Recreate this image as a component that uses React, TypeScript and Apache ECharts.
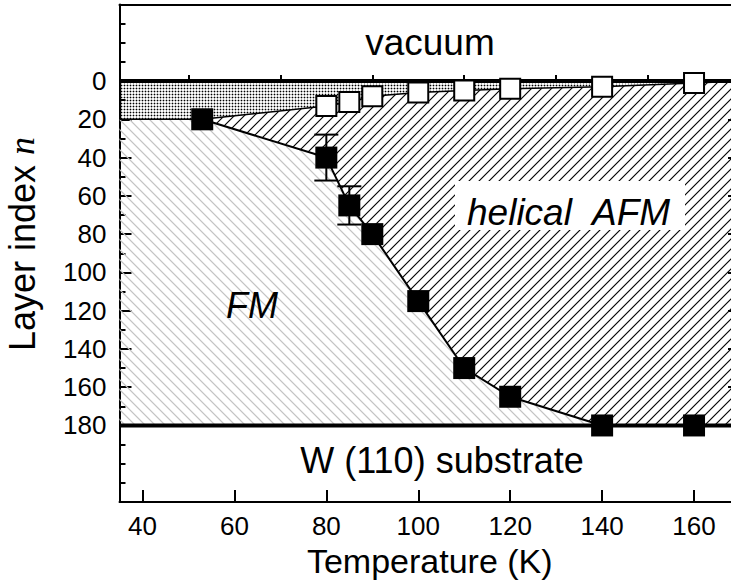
import { useEffect, useRef } from 'react';
import * as echarts from 'echarts';

// axis ranges and tick positions
const tempRange = [35, 170];
const layerRange = [-40, 220];
const tempTicks = [40, 60, 80, 100, 120, 140, 160];
const tempMinorTicks = [50, 70, 90, 110, 130, 150, 170];
const layerLabels = [0, 20, 40, 60, 80, 100, 120, 140, 160, 180];
const layerMajorTicks = [20, 40, 60, 80, 100, 120, 140, 160];

// film surface and W(110) interface, in layers
const surfaceLayer = 0;
const substrateLayer = 180;

// filled squares: FM / helical AFM boundary
const fmTemp = [53, 80, 85, 90, 100, 110, 120, 140, 160];
const fmLayer = [20, 40, 65, 80, 115, 150, 165, 180, 180];

// error bars on the filled squares
const errTemp = [80, 85];
const errLow = [28, 55];
const errHigh = [52, 75];

// open squares: depth of the surface region
const surfTemp = [80, 85, 90, 100, 110, 120, 140, 160];
const surfLayer = [13, 11, 8, 6, 5, 4, 3, 1];

const FONT = "'Liberation Sans', Arial, Helvetica, sans-serif";

type Pt = number[];
const zip = (xs: number[], ys: number[]): Pt[] => xs.map((x, i) => [x, ys[i]]);

// builds a repeating tile, drawn at high resolution and shown at `w` x `h` px
function makePattern(w: number, h: number, draw: (ctx: CanvasRenderingContext2D) => void) {
  const k = 8;
  const c = document.createElement('canvas');
  c.width = w * k;
  c.height = h * k;
  const ctx = c.getContext('2d')!;
  ctx.scale(k, k);
  draw(ctx);
  return { image: c.toDataURL(), repeat: 'repeat', imageWidth: w, imageHeight: h };
}

function stipple() {
  return makePattern(3, 3, (ctx) => {
    ctx.fillStyle = '#000';
    ctx.beginPath();
    ctx.arc(1.5, 1.5, 0.88, 0, Math.PI * 2);
    ctx.fill();
  });
}

// "/" hatch
function hatchUp(s: number, color: string, lw: number) {
  return makePattern(s, s, (ctx) => {
    ctx.strokeStyle = color;
    ctx.lineWidth = lw;
    for (const c of [0, s, 2 * s]) {
      ctx.beginPath();
      ctx.moveTo(-2, c + 2);
      ctx.lineTo(s + 2, c - s - 2);
      ctx.stroke();
    }
  });
}

// "\" hatch
function hatchDown(s: number, color: string, lw: number) {
  return makePattern(s, s, (ctx) => {
    ctx.strokeStyle = color;
    ctx.lineWidth = lw;
    for (const c of [-s, 0, s]) {
      ctx.beginPath();
      ctx.moveTo(-2, -2 - c);
      ctx.lineTo(s + 2, s + 2 - c);
      ctx.stroke();
    }
  });
}

export default function App() {
  const ref = useRef<HTMLDivElement>(null);

  useEffect(() => {
    if (!ref.current) return;
    const chart = echarts.init(ref.current, null, { renderer: 'svg' });

    const [xMin, xMax] = tempRange;
    const fmPts = zip(fmTemp, fmLayer);
    const surfPts = zip(surfTemp, surfLayer);
    const start = fmPts[0];

    const surfaceRegion: Pt[] = [
      [xMin, surfaceLayer],
      [xMax, surfaceLayer],
      ...surfPts.slice().reverse(),
      start,
      [xMin, start[1]],
    ];
    const afmRegion: Pt[] = [
      start,
      ...surfPts,
      [xMax, surfaceLayer],
      [xMax, substrateLayer],
      ...fmPts.slice().reverse(),
    ];
    const fmRegion: Pt[] = [[xMin, start[1]], ...fmPts, [xMin, substrateLayer]];

    const region = (name: string, pts: Pt[], fill: any) => ({
      type: 'custom',
      name,
      silent: true,
      z: 1,
      xAxisIndex: 0,
      yAxisIndex: 0,
      data: [pts[0]],
      renderItem: (_p: any, api: any) => ({
        type: 'polygon',
        shape: { points: pts.map((p) => api.coord(p)) },
        style: { fill, stroke: 'none' },
      }),
    });

    const axisLine = { show: true, onZero: false, lineStyle: { color: '#000', width: 2 } };
    const tickStyle = { color: '#000', width: 2 };
    const gridBox = { left: 119.5, top: 4.5, width: 620.5, height: 497.5, containLabel: false, outerBoundsMode: 'none' };

    const layerAxisBase = {
      type: 'value',
      inverse: true,
      min: layerRange[0],
      max: layerRange[1],
      splitLine: { show: false },
    };
    const tempAxisBase = {
      type: 'value',
      min: xMin,
      max: xMax,
      splitLine: { show: false },
    };

    chart.setOption({
      animation: false,
      grid: [gridBox, gridBox],
      xAxis: [
        {
          ...tempAxisBase,
          gridIndex: 0,
          position: 'bottom',
          axisLine,
          axisTick: { show: true, inside: true, length: 12, lineStyle: tickStyle, customValues: tempTicks },
          axisLabel: { customValues: tempTicks, fontSize: 26, color: '#000', fontFamily: FONT, margin: 11 },
          name: 'Temperature (K)',
          nameLocation: 'middle',
          nameGap: 42,
          nameTextStyle: { fontSize: 34, color: '#000', fontFamily: FONT },
        },
        {
          ...tempAxisBase,
          gridIndex: 0,
          position: 'top',
          axisLine,
          axisTick: { show: false },
          axisLabel: { show: false },
        },
        {
          ...tempAxisBase,
          gridIndex: 1,
          position: 'bottom',
          axisLine: { show: false },
          axisTick: { show: true, inside: true, length: 6, lineStyle: tickStyle, customValues: tempMinorTicks },
          axisLabel: { show: false },
        },
      ],
      yAxis: [
        {
          ...layerAxisBase,
          gridIndex: 0,
          position: 'left',
          interval: 10,
          axisLine,
          axisTick: { show: true, inside: true, length: 6, lineStyle: tickStyle },
          axisLabel: {
            formatter: (v: number) => (layerLabels.includes(v) ? String(v) : ''),
            fontSize: 26,
            color: '#000',
            fontFamily: FONT,
            margin: 13,
          },
        },
        {
          ...layerAxisBase,
          gridIndex: 0,
          position: 'right',
          interval: 10,
          axisLine,
          axisTick: { show: true, inside: true, length: 6, lineStyle: tickStyle },
          axisLabel: { show: false },
        },
        {
          ...layerAxisBase,
          gridIndex: 1,
          position: 'left',
          axisLine: { show: false },
          axisTick: { show: true, inside: true, length: 12, lineStyle: tickStyle, customValues: layerMajorTicks },
          axisLabel: { show: false },
        },
        {
          ...layerAxisBase,
          gridIndex: 1,
          position: 'right',
          axisLine: { show: false },
          axisTick: { show: true, inside: true, length: 12, lineStyle: tickStyle, customValues: layerMajorTicks },
          axisLabel: { show: false },
        },
      ],
      series: [
        region('surface region', surfaceRegion, stipple()),
        region('helical AFM', afmRegion, hatchUp(10, '#000', 1.1)),
        region('FM', fmRegion, hatchDown(10, '#c2c2c2', 1.2)),
        {
          type: 'line',
          name: 'surface boundary',
          z: 2,
          data: [[xMin, start[1]], start, ...surfPts, [xMax, surfaceLayer]],
          symbol: 'none',
          lineStyle: { color: '#000', width: 1.5 },
        },
        {
          type: 'line',
          name: 'FM boundary',
          z: 2,
          data: fmPts,
          symbol: 'none',
          lineStyle: { color: '#000', width: 2 },
        },
        {
          type: 'line',
          name: 'surface',
          z: 3,
          data: [[xMin, surfaceLayer], [xMax, surfaceLayer]],
          symbol: 'none',
          lineStyle: { color: '#000', width: 4 },
        },
        {
          type: 'line',
          name: 'substrate',
          z: 3,
          data: [[xMin, substrateLayer], [xMax, substrateLayer]],
          symbol: 'none',
          lineStyle: { color: '#000', width: 4 },
        },
        {
          type: 'custom',
          name: 'error',
          z: 4,
          data: errTemp.map((t, i) => [t, errLow[i], errHigh[i]]),
          renderItem: (_p: any, api: any) => {
            const t = api.value(0);
            const lo = api.coord([t, api.value(1)]);
            const hi = api.coord([t, api.value(2)]);
            const half = 12;
            const style = { stroke: '#000', lineWidth: 2 };
            return {
              type: 'group',
              children: [
                { type: 'line', shape: { x1: lo[0], y1: lo[1], x2: hi[0], y2: hi[1] }, style },
                { type: 'line', shape: { x1: lo[0] - half, y1: lo[1], x2: lo[0] + half, y2: lo[1] }, style },
                { type: 'line', shape: { x1: hi[0] - half, y1: hi[1], x2: hi[0] + half, y2: hi[1] }, style },
              ],
            };
          },
        },
        {
          type: 'scatter',
          name: 'surface depth',
          z: 5,
          data: surfPts,
          symbol: 'rect',
          symbolSize: 20,
          itemStyle: { color: '#fff', borderColor: '#000', borderWidth: 2, opacity: 1 },
        },
        {
          type: 'scatter',
          name: 'FM-AFM transition',
          z: 5,
          data: fmPts,
          symbol: 'rect',
          symbolSize: 22,
          itemStyle: { color: '#000', opacity: 1 },
        },
      ],
      graphic: [
        {
          type: 'text',
          x: 22,
          y: 244,
          rotation: Math.PI / 2,
          z: 10,
          style: {
            text: '{a|Layer index }{b|n}',
            align: 'center',
            verticalAlign: 'middle',
            rich: {
              a: { fontSize: 36, fontFamily: FONT, fill: '#000' },
              b: { fontSize: 36, fontFamily: "'Liberation Serif', 'Times New Roman', serif", fontStyle: 'italic', fill: '#000' },
            },
          },
        },
        {
          type: 'text',
          x: 430,
          y: 42,
          z: 10,
          style: { text: 'vacuum', fontSize: 37, fontFamily: FONT, fill: '#000', align: 'center', verticalAlign: 'middle' },
        },
        {
          type: 'text',
          x: 442,
          y: 460,
          z: 10,
          style: { text: 'W (110) substrate', fontSize: 36, fontFamily: FONT, fill: '#000', align: 'center', verticalAlign: 'middle' },
        },
        {
          type: 'rect',
          z: 9,
          shape: { x: 455, y: 181, width: 230, height: 49 },
          style: { fill: '#fff' },
        },
        {
          type: 'text',
          x: 467,
          y: 212,
          z: 10,
          style: { text: 'helical', fontSize: 37, fontStyle: 'italic', fontFamily: FONT, fill: '#000', align: 'left', verticalAlign: 'middle' },
        },
        {
          type: 'text',
          x: 592,
          y: 212,
          z: 10,
          style: { text: 'AFM', fontSize: 37, fontStyle: 'italic', fontFamily: FONT, fill: '#000', align: 'left', verticalAlign: 'middle' },
        },
        {
          type: 'text',
          x: 252,
          y: 305,
          z: 10,
          style: { text: 'FM', fontSize: 36, fontStyle: 'italic', fontFamily: FONT, fill: '#000', align: 'center', verticalAlign: 'middle' },
        },
      ],
    });

    return () => chart.dispose();
  }, []);

  return <div ref={ref} style={{ position: 'absolute', left: 0, top: 0, width: 731, height: 583 }} />;
}
